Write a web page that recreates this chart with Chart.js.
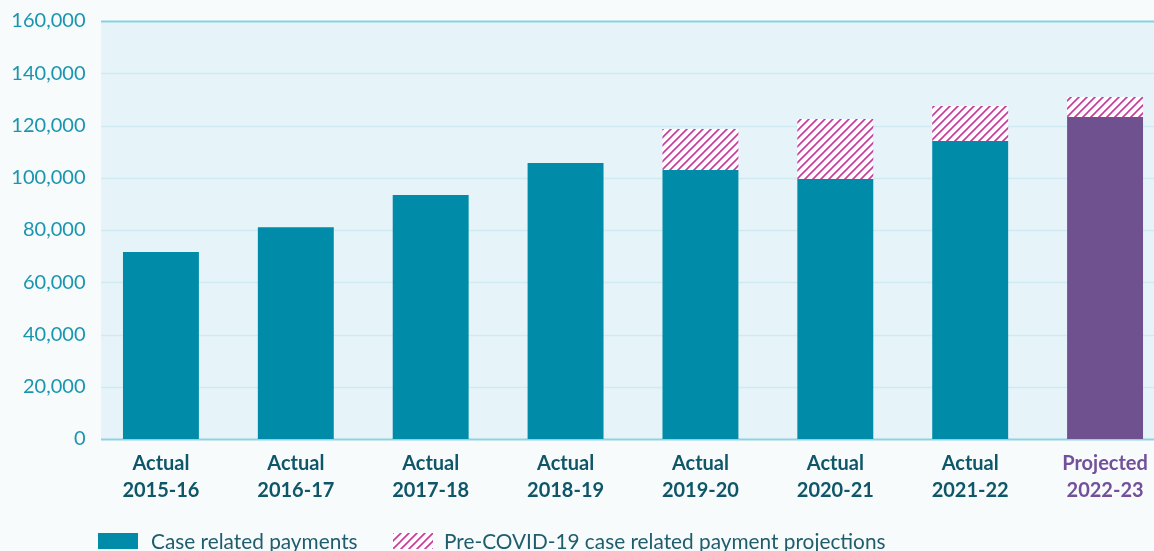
<!DOCTYPE html>
<html>
<head>
<meta charset="utf-8">
<script src="https://cdn.jsdelivr.net/npm/chart.js@4"></script>
<style>
  html, body { margin:0; padding:0; background:#f7fbfc; overflow:hidden; width:1154px; height:551px; }
  #wrap { position:absolute; left:0; top:0; width:1180px; height:551px; }
  .legend { position:absolute; top:528px; font-family:Lato, sans-serif; font-size:20.8px; color:#1f5d6d; white-space:nowrap; }
  .sw { position:absolute; top:533px; width:40px; height:16px; }
</style>
</head>
<body>
<div id="wrap"><canvas id="c" width="1180" height="551"></canvas></div>
<div class="sw" style="left:98px; background:#008ca9;"></div>
<div class="legend" style="left:151px;">Case related payments</div>
<canvas class="sw" id="hatchSw" width="40" height="16" style="left:393px;"></canvas>
<div class="legend" style="left:444px;">Pre-COVID-19 case related payment projections</div>
<script>
const categories = [["Actual","2015-16"],["Actual","2016-17"],["Actual","2017-18"],["Actual","2018-19"],["Actual","2019-20"],["Actual","2020-21"],["Actual","2021-22"],["Projected","2022-23"]];
const caseRelated = [71600, 81100, 93400, 105600, 103000, 99500, 114100, 123300];
const preCovidExtra = [null, null, null, null, 15700, 23000, 13400, 7600];
const yTicks = [0, 20000, 40000, 60000, 80000, 100000, 120000, 140000, 160000];

const TEAL = '#008ca9', PURPLE = '#70518f', PINK = '#c8389c';

function makeHatch(bg) {
  const p = document.createElement('canvas');
  p.width = 8; p.height = 8;
  const g = p.getContext('2d');
  g.fillStyle = bg; g.fillRect(0,0,8,8);
  g.strokeStyle = PINK; g.lineWidth = 1.6;
  g.beginPath();
  g.moveTo(0,8); g.lineTo(8,0);
  g.moveTo(-4,4); g.lineTo(4,-4);
  g.moveTo(4,12); g.lineTo(12,4);
  g.stroke();
  return p;
}
const ctx = document.getElementById('c').getContext('2d');
const hatch = ctx.createPattern(makeHatch('#ffffff'), 'repeat');

(function(){
  const s = document.getElementById('hatchSw').getContext('2d');
  s.fillStyle = s.createPattern(makeHatch('#ffffff'),'repeat');
  s.fillRect(0,0,40,16);
})();

const bgPlugin = {
  id: 'bgPlugin',
  beforeDraw(chart) {
    const c = chart.ctx, a = chart.chartArea, y = chart.scales.y;
    c.save();
    c.fillStyle = '#f7fbfc';
    c.fillRect(0,0,chart.width,chart.height);
    const left = 101, right = chart.width;
    c.fillStyle = '#e6f4f9';
    c.fillRect(left, a.top, right-left, a.bottom-a.top);
    yTicks.forEach(v => {
      const py = Math.round(y.getPixelForValue(v)) + 0.5;
      c.strokeStyle = (v === 160000) ? '#84d2e3' : (v === 0 ? '#8fd2e1' : '#cfeaf1');
      c.lineWidth = (v === 160000 || v === 0) ? 2 : 1.5;
      c.beginPath(); c.moveTo(left, py); c.lineTo(right, py); c.stroke();
    });
    c.restore();
  }
};

new Chart(ctx, {
  type: 'bar',
  data: {
    labels: categories,
    datasets: [
      { label: 'Case related payments', data: caseRelated,
        backgroundColor: caseRelated.map((v,i) => i === 7 ? PURPLE : TEAL),
        barPercentage: 0.563, categoryPercentage: 1.0, stack: 's' },
      { label: 'Pre-COVID-19 case related payment projections', data: preCovidExtra,
        backgroundColor: hatch, barPercentage: 0.563, categoryPercentage: 1.0, stack: 's' }
    ]
  },
  options: {
    responsive: false,
    animation: false,
    layout: { padding: { top: 21, right: 7.5, left: 0, bottom: 0 } },
    plugins: { legend: { display: false }, tooltip: { enabled: false } },
    scales: {
      x: {
        stacked: true,
        offset: true,
        grid: { display: false, drawTicks: false },
        border: { display: false },
        ticks: {
          padding: 11,
          font: { family: 'Lato', size: 20, weight: 'bold', lineHeight: 1.36 },
          color: (c) => c.index === 7 ? '#72509a' : '#0f5669',
          maxRotation: 0, autoSkip: false
        },
        afterFit(s) { s.height = 112; }
      },
      y: {
        stacked: true,
        min: 0, max: 160000,
        afterBuildTicks(s) { s.ticks = yTicks.map(v => ({ value: v })); },
        grid: { display: false, drawTicks: false },
        border: { display: false },
        ticks: {
          padding: 8,
          font: { family: 'Lato', size: 20 },
          color: '#1a95af',
          callback: (v) => v.toLocaleString('en-US')
        },
        afterFit(s) { s.width = 93.5; }
      }
    }
  },
  plugins: [bgPlugin]
});
</script>
</body>
</html>
